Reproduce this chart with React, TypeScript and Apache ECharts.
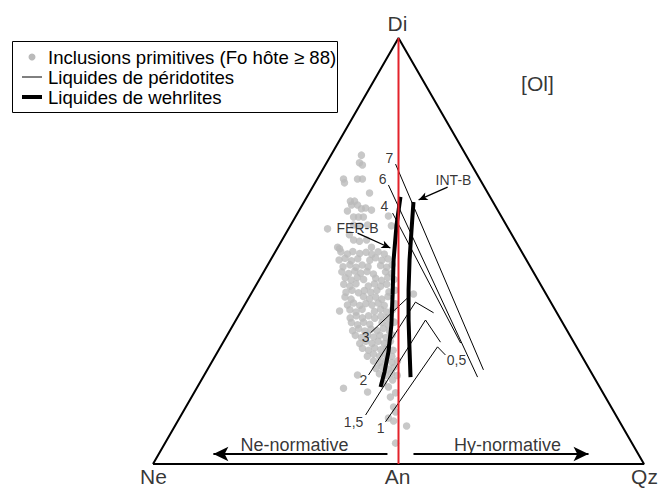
import React, { useEffect, useRef } from "react";
import * as echarts from "echarts";

const FONT = "'Liberation Sans', Arial, Helvetica, sans-serif";

// Ternary frame: x = normative index (Ne = -100, An = 0, Qz = 100), y = Di (0 at the Ne–Qz join, 100 at Di)
const triangle = [[-100, 0], [0, 100], [100, 0], [-100, 0]];
const anDiJoin = [[0, 0], [0, 100]];

// Primitive melt inclusions (Fo host >= 88)
const inclusions: number[][] = [
  [-15.1, 72.5], [-15.9, 70.7], [-14.7, 70.2], [-22.4, 66.9], [-22.0, 66.0], [-16.7, 66.9], [-14.7, 66.9],
  [-11.8, 63.6], [-19.6, 61.7], [-17.9, 61.7], [-19.1, 60.8], [-16.7, 60.8], [-15.1, 59.9], [-13.4, 60.1],
  [-20.8, 59.4], [-11.0, 59.6], [-18.3, 58.0], [-16.3, 58.0], [-14.3, 58.0], [-4.1, 58.2], [-28.9, 55.2],
  [-18.3, 56.1], [-15.9, 55.9], [-12.6, 56.1], [-2.9, 55.9], [-20.0, 53.8], [-24.8, 50.9], [-24.0, 50.5],
  [-18.3, 52.6], [-15.9, 52.3], [-13.0, 52.6], [-11.0, 50.9],
  [-23.5, 49.8], [-20.8, 49.3], [-18.6, 49.9], [-15.8, 49.4], [-13.2, 49.7], [-10.9, 49.2], [-8.3, 49.8], [-5.8, 49.3],
  [-24.2, 47.9], [-21.8, 48.3], [-19.2, 47.7], [-16.6, 48.2], [-11.7, 47.8], [-9.4, 48.4], [-6.8, 47.8], [-4.3, 48.2],
  [-22.6, 46.3], [-19.8, 46.8], [-17.3, 46.2], [-14.8, 46.7], [-12.4, 46.3], [-7.3, 46.6], [-4.8, 46.2], [-2.6, 46.8],
  [-23.1, 45.1], [-20.3, 44.7], [-17.8, 45.3], [-15.4, 44.8], [-12.8, 45.2], [-10.2, 44.6], [-5.3, 45.1], [-2.9, 44.7],
  [-21.7, 43.7], [-19.3, 43.2], [-16.8, 43.8], [-14.2, 43.3], [-9.3, 43.6], [-6.9, 43.1], [-4.4, 43.8], [-1.8, 43.3],
  [-22.3, 42.2], [-19.8, 41.7], [-17.3, 42.3], [-12.3, 41.8], [-9.8, 42.3], [-7.3, 41.7], [-4.8, 42.2],
  [-21.4, 40.3], [-18.9, 40.8], [-16.3, 40.2], [-13.9, 40.7], [-11.3, 40.3], [-8.8, 40.8], [-3.9, 40.4], [-1.4, 40.8],
  [-21.8, 39.2], [-19.3, 38.7], [-14.3, 39.3], [-11.8, 38.8], [-9.3, 39.2], [-6.8, 38.7], [-4.3, 39.3],
  [-20.8, 37.3], [-18.3, 37.8], [-15.8, 37.2], [-13.3, 37.7], [-10.8, 37.3], [-8.3, 37.8], [-5.8, 37.2], [-1.2, 37.6],
  [-24.0, 35.9], [-19.8, 36.2], [-17.3, 35.7], [-14.8, 36.3], [-9.8, 35.8], [-7.3, 36.3], [-4.8, 35.7], [-2.4, 36.2],
  [-19.7, 34.3], [-17.2, 34.8], [-14.7, 34.3], [-12.2, 34.8], [-9.7, 34.2], [-7.2, 34.7], [-4.7, 34.3],
  [-19.2, 33.2], [-16.7, 32.7], [-14.2, 33.3], [-11.7, 32.8], [-6.7, 33.2], [-4.2, 32.7], [-1.7, 33.3],
  [-18.7, 31.3], [-16.2, 31.8], [-13.7, 31.2], [-11.2, 31.7], [-8.7, 31.3], [-6.2, 31.8], [-3.7, 31.2],
  [-17.6, 30.2], [-15.1, 29.7], [-12.6, 30.3], [-10.1, 29.8], [-7.6, 30.2], [-5.1, 29.7], [-2.6, 30.3],
  [-15.8, 28.3], [-13.3, 28.8], [-10.8, 28.3], [-8.3, 28.8], [-5.8, 28.3], [-3.3, 28.8],
  [-14.7, 27.2], [-12.2, 26.7], [-9.7, 27.3], [-7.2, 26.8], [-4.7, 27.2], [-2.2, 26.7],
  [-12.7, 25.3], [-10.2, 25.8], [-7.7, 25.3], [-5.2, 25.8], [-2.7, 25.3],
  [-10.2, 24.2], [-7.7, 23.8], [-5.2, 24.3], [-2.7, 23.8], [-0.4, 24.2],
  [-9.2, 22.4], [-6.7, 22.8], [-4.2, 22.3], [-1.8, 22.7],
  [-7.8, 21.2], [-5.3, 20.8], [-2.8, 21.3], [-0.5, 20.8],
  [-16.7, 20.9], [-22.4, 17.8], [-12.6, 16.9], [-6.1, 19.0], [-4.1, 18.1], [-2.4, 19.7], [-1.2, 16.7],
  [-3.3, 15.7], [-2.0, 13.4], [-1.2, 12.2], [-4.1, 10.8], [-2.0, 10.1], [3.3, 8.9], [-1.2, 4.9],
  [6.1, 39.9],
];

// Wehrlite liquids (thick)
const ferB = [[0.8, 62.7], [-0.8, 56.1], [-2.0, 47.9], [-2.4, 39.7], [-2.9, 32.6], [-4.1, 26.3], [-5.7, 21.6], [-7.3, 18.1]];
const intB = [[6.1, 61.5], [5.3, 54.9], [4.5, 47.9], [4.1, 40.9], [4.1, 33.8], [4.5, 26.8], [4.9, 20.4]];

// Peridotite liquids (thin), by pressure
const perid7 = [[-1.2, 70.4], [34.6, 22.1]];
const perid6 = [[-4.1, 65.5], [32.2, 20.4]];
const perid4 = [[-2.4, 58.9], [25.3, 28.4]];
const perid3 = [[-11.4, 30.8], [3.7, 39.0]];
const perid2 = [[-12.2, 20.9], [6.9, 38.0], [14.3, 35.5]];
const perid15 = [[-13.4, 11.5], [11.0, 33.8], [17.1, 28.6]];
const perid1 = [[-5.3, 9.9], [15.9, 27.5], [19.1, 25.6]];

// Arrows: [start, tip]
const normArrows = [[[-4.5, 2.35], [-75.4, 2.35]], [[6.1, 2.35], [77.4, 2.35]]];
const pointerArrows = [[[-16.7, 54.2], [-3.3, 50.7]], [[20.0, 65.0], [8.2, 62.0]]];

// Text anchors [x, y, text]
const vertexLabels: (number | string)[][] = [
  [-0.4, 103.4, "Di"], [-99.8, -3.05, "Ne"], [-0.4, -3.05, "An"], [100.2, -3.05, "Qz"], [56.6, 89.4, "[Ol]"],
];
const normLabels: (number | string)[][] = [[-42.4, 4.5, "Ne-normative"], [44.4, 4.5, "Hy-normative"]];
const pressureLabels: (number | string)[][] = [
  [-3.7, 71.8, "7"], [-6.5, 66.9, "6"], [-5.7, 60.6, "4"], [-13.4, 29.8, "3"], [-14.3, 19.7, "2"],
  [-18.3, 9.9, "1,5"], [-7.3, 8.5, "1"], [23.6, 24.4, "0,5"],
];
const trendLabels: (number | string)[][] = [[-16.7, 55.4, "FER-B"], [22.4, 66.7, "INT-B"]];

const legendItems = ["Inclusions primitives (Fo hôte ≥ 88)", "Liquides de péridotites", "Liquides de wehrlites"];

function lineSeries(name: string, data: number[][], width: number, color = "#000", extra: any = {}) {
  return {
    type: "line", name, data, symbol: "none", silent: true, z: 3,
    lineStyle: { color, width }, itemStyle: { color }, ...extra,
  };
}

function labelSeries(data: (number | string)[][], fontSize: number) {
  return {
    type: "scatter", data, symbolSize: 1, clip: false, silent: true, z: 5,
    itemStyle: { color: "rgba(0,0,0,0)" },
    label: {
      show: true, position: "inside", formatter: (p: any) => p.value[2],
      color: "#000", fontSize, fontFamily: FONT,
    },
  };
}

function arrowMarks(pairs: number[][][], size: number[], width: number) {
  return {
    silent: true, symbol: ["none", "arrow"], symbolSize: size,
    lineStyle: { type: "solid", color: "#000", width }, itemStyle: { color: "#000" },
    label: { show: false }, emphasis: { disabled: true },
    data: pairs.map((p) => [{ coord: p[0] }, { coord: p[1] }]),
  };
}

export default function App() {
  const ref = useRef<HTMLDivElement>(null);
  useEffect(() => {
    document.body.style.margin = "0";
    const chart = echarts.init(ref.current!, null, { renderer: "svg" });
    chart.setOption({
      animation: false,
      backgroundColor: "#fff",
      grid: { left: 153, right: 18, top: 38, bottom: 25 },
      xAxis: { type: "value", min: -100, max: 100, show: false },
      yAxis: { type: "value", min: 0, max: 100, show: false },
      series: [
        {
          type: "scatter", name: legendItems[0], data: inclusions, symbolSize: 7.5, silent: true, z: 2,
          itemStyle: { color: "#bababa" },
        },
        lineSeries("triangle", triangle, 2, "#000", { z: 4, markLine: arrowMarks(normArrows, [11, 15], 2) }),
        lineSeries("An-Di", anDiJoin, 2, "#e3222b", { z: 4 }),
        lineSeries("FER-B", ferB, 4, "#000", { markLine: arrowMarks(pointerArrows, [6, 9], 1.2) }),
        lineSeries("INT-B", intB, 4),
        lineSeries("7", perid7, 1),
        lineSeries("6", perid6, 1),
        lineSeries("4", perid4, 1),
        lineSeries("3", perid3, 1),
        lineSeries("2", perid2, 1),
        lineSeries("1,5", perid15, 1),
        lineSeries("1", perid1, 1),
        labelSeries(vertexLabels, 21),
        labelSeries(normLabels, 18),
        labelSeries(pressureLabels, 14),
        labelSeries(trendLabels, 14),
      ],
      graphic: [
        { type: "rect", shape: { x: 12.5, y: 41.5, width: 325, height: 71 }, style: { fill: "#fff", stroke: "#000", lineWidth: 1 }, z: 10 },
        { type: "circle", shape: { cx: 32, cy: 57, r: 3.5 }, style: { fill: "#bababa" }, z: 11 },
        { type: "line", shape: { x1: 22, y1: 77, x2: 42, y2: 77 }, style: { stroke: "#000", lineWidth: 1 }, z: 11 },
        { type: "line", shape: { x1: 22, y1: 97, x2: 42, y2: 97 }, style: { stroke: "#000", lineWidth: 4 }, z: 11 },
        ...legendItems.map((t, i) => ({
          type: "text", x: 48, y: 57 + i * 20, z: 11,
          style: { text: t, fontSize: 18.6, fontFamily: FONT, fill: "#000", verticalAlign: "middle", align: "left" },
        })),
      ],
    });
    return () => chart.dispose();
  }, []);
  return <div ref={ref} style={{ width: 662, height: 489 }} />;
}
